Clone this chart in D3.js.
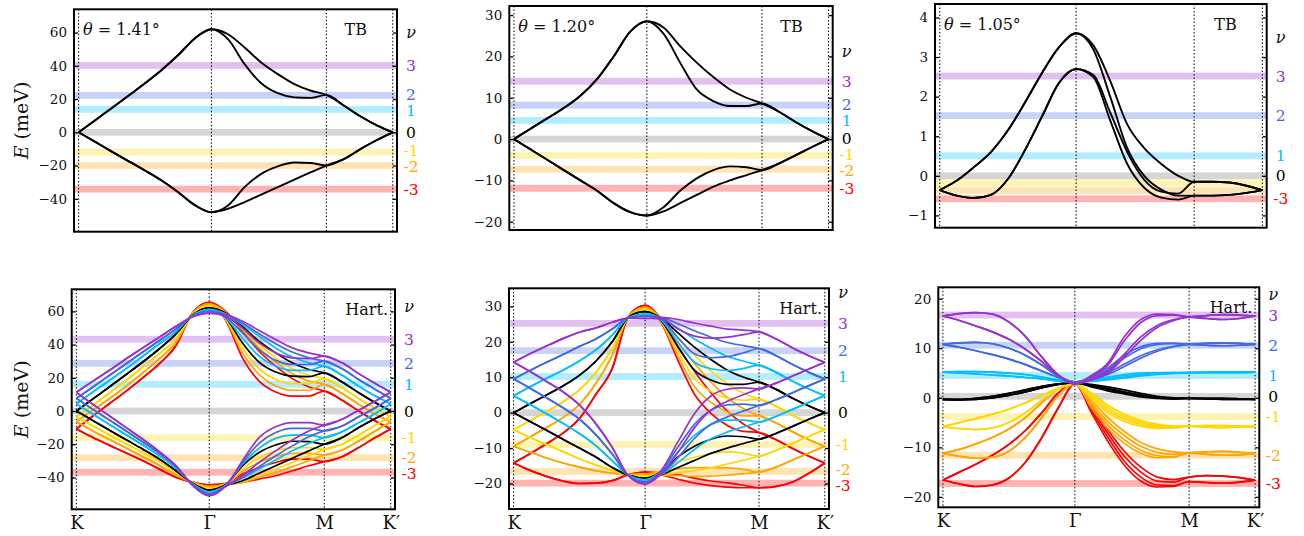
<!DOCTYPE html>
<html><head><meta charset="utf-8">
<script src="https://cdn.jsdelivr.net/npm/d3@7"></script>
<style>
body{margin:0;background:#fff;}
svg text{font-family:"DejaVu Serif",serif;fill:#111;}
</style></head><body>
<svg id="chart" width="1304" height="536"></svg>
<script>
// ---------- shared data ----------
const kPath = [0,0.125,0.25,0.375,0.5,0.625,0.75,0.875,1.0,1.125,1.25,1.375,1.5,1.625,1.75,1.866,2.0,2.125,2.25,2.366];
const kSymPos = [0,1,1.866,2.366];
const kSymLabels = ["K","Γ","M","K′"];
const nuValues = [3,2,1,0,-1,-2,-3];
const nuText = ["3","2","1","0","-1","-2","-3"];

// ---------- TB bands (black) ----------
const tb141 = [
 [0,7.3,14.6,22,29.5,37.5,46.5,56.5,62, 59,51,42,35,29,25,22.5, 16,9.5,4,0],
 [0,7.3,14.6,22,29.5,37.5,46.5,56.5,62, 56,41,29.5,23.5,21,20.7,22.5, 16,9.5,4,0],
 [0,-5.8,-11.6,-17.3,-23,-29,-36,-43.8,-48, -44,-33,-25,-20.5,-18.2,-18.5,-20, -16,-10,-4.5,0],
 [0,-5.8,-11.6,-17.3,-23,-29,-36,-43.8,-48, -46,-42,-37.5,-33,-28.5,-24,-20, -16,-10,-4.5,0]
];
const tb120 = [
 [0,2.5,5,7.5,10.5,14.5,20,26,28.5, 27,22.5,18.5,15,12,10,8.6, 6.5,4,1.8,0],
 [0,2.5,5,7.5,10.5,14.5,20,26,28.5, 25.5,18.5,12,9.2,8,8,8.6, 6.5,4,1.8,0],
 [0,-2.5,-5,-7.5,-10,-12.5,-15.5,-17.7,-18.5, -16.5,-12.5,-9.5,-7.5,-6.6,-6.8,-7.5, -5.8,-3.8,-1.8,0],
 [0,-2.5,-5,-7.5,-10,-12.5,-15.5,-17.7,-18.5, -17.5,-15.5,-13.5,-11.5,-10,-8.7,-7.5, -5.8,-3.8,-1.8,0]
];
const tb105 = [
 [-0.36,-0.12,0.22,0.6,1.15,1.85,2.6,3.25,3.6, 3.3,2.4,1.3,0.7,0.3,0.0,-0.15, -0.15,-0.17,-0.25,-0.36],
 [-0.36,-0.12,0.22,0.6,1.15,1.85,2.6,3.25,3.6, 3.2,2.0,0.7,0.0,-0.35,-0.5,-0.5, -0.5,-0.48,-0.43,-0.36],
 [-0.36,-0.5,-0.56,-0.48,-0.08,0.65,1.5,2.35,2.7, 2.55,1.6,0.6,-0.1,-0.4,-0.45,-0.15, -0.15,-0.17,-0.25,-0.36],
 [-0.36,-0.5,-0.56,-0.48,-0.08,0.65,1.5,2.35,2.7, 2.5,1.4,0.3,-0.3,-0.55,-0.6,-0.5, -0.5,-0.48,-0.43,-0.36]
];

// ---------- Hartree 1.41° (per filling nu) ----------
const h141_p3 = [
 [11.3,18,24.5,31.5,38,44.5,51,56.8,59, 58,54,48.5,43,38,35,33, 29,22.5,16.5,11.3],
 [11.3,18,24.5,31.5,38,44.5,51,56.8,59, 57,50,41,35,32,31.5,33, 29,22.5,16.5,11.3],
 [11.3,4,-3,-10,-17,-24.5,-33,-44.8,-51, -45,-30,-16,-9.5,-7,-7,-8.5, -5,0.5,6,11.3],
 [11.3,4,-3,-10,-17,-24.5,-33,-44.8,-51, -45.5,-39,-31,-24,-17.5,-12,-8.5, -5,0.5,6,11.3]
];
const h141_p2 = [
 [7.6,14.5,21.5,28.5,35.5,42.5,49.5,57.2,60, 58,53,46.5,40.5,35.5,32,30, 25.5,19,13,7.6],
 [7.6,14.5,21.5,28.5,35.5,42.5,49.5,57.2,60, 56.5,47,37,30.5,28,28,30, 25.5,19,13,7.6],
 [7.6,1,-5.5,-12,-18.7,-25.5,-33.5,-44.3,-50, -44.8,-31,-19.5,-13,-10.5,-10.5,-12, -9,-3.5,2,7.6],
 [7.6,1,-5.5,-12,-18.7,-25.5,-33.5,-44.3,-50, -45.2,-40,-33.5,-27,-21,-15.5,-12, -9,-3.5,2,7.6]
];
const h141_p1 = [
 [4.3,11.5,18.5,25.5,33,40.5,48,57.6,61, 58.5,52,45,38,32.5,29,27, 21.5,15,9,4.3],
 [4.3,11.5,18.5,25.5,33,40.5,48,57.6,61, 56,44,33,27,24.5,24.5,27, 21.5,15,9,4.3],
 [4.3,-2,-8.2,-14.3,-20.5,-27,-34.5,-43.9,-48.8, -44.5,-32,-22.5,-16.5,-14.5,-14.5,-16, -12.5,-7,-1.5,4.3],
 [4.3,-2,-8.2,-14.3,-20.5,-27,-34.5,-43.9,-48.8, -45,-40.5,-35,-29.5,-24,-19.5,-16, -12.5,-7,-1.5,4.3]
];
const h141_0 = [
 [0,7.3,14.6,22,29.5,37.5,46.5,57.8,62.2, 59,51,42,35,29,25,23, 17.5,11,5,0],
 [0,7.3,14.6,22,29.5,37.5,46.5,57.8,62.2, 56,41,29.5,23.5,21,20.7,23, 17.5,11,5,0],
 [0,-5.8,-11.6,-17.3,-23,-29,-36,-43.5,-47.6, -44.2,-33,-25,-20.5,-18.2,-18.5,-20, -16,-10,-4.5,0],
 [0,-5.8,-11.6,-17.3,-23,-29,-36,-43.5,-47.6, -44.8,-42,-37.5,-33,-28.5,-24,-20, -16,-10,-4.5,0]
];
const h141_m1 = [
 [-3.4,3.5,11,18.5,26.5,34.5,43.5,58.4,63.5, 59,50,40,32,25.5,21.5,19.5, 14,7.5,1.5,-3.4],
 [-3.4,3.5,11,18.5,26.5,34.5,43.5,58.4,63.5, 55.5,38,25.5,19,16.5,16.5,19.5, 14,7.5,1.5,-3.4],
 [-3.4,-9,-14.5,-19.8,-25,-30.5,-37,-43.2,-46.5, -44,-35,-28,-24,-22,-22,-23, -20,-14.5,-8.5,-3.4],
 [-3.4,-9,-14.5,-19.8,-25,-30.5,-37,-43.2,-46.5, -44.6,-42.5,-39,-35,-31,-27,-23, -20,-14.5,-8.5,-3.4]
];
const h141_m2 = [
 [-6.5,0.5,7.5,15,23,31.5,41.5,58.8,64.5, 59.5,49,38,29.5,22.5,18,16, 10.5,4,-2,-6.5],
 [-6.5,0.5,7.5,15,23,31.5,41.5,58.8,64.5, 55,35,22,15,12.5,12.5,16, 10.5,4,-2,-6.5],
 [-6.5,-12,-17.2,-22.3,-27.5,-32.8,-38.5,-43,-45.5, -43.8,-36.5,-31,-27.5,-25.5,-25.5,-26.5, -23.5,-18,-12,-6.5],
 [-6.5,-12,-17.2,-22.3,-27.5,-32.8,-38.5,-43,-45.5, -44.4,-43,-40,-37,-33.5,-30,-26.5, -23.5,-18,-12,-6.5]
];
const h141_m3 = [
 [-10.8,-3,4.5,12,20,28.5,39.5,59.2,65.5, 60,48,36,27,19.5,14.5,12, 6.5,0,-6,-10.8],
 [-10.8,-3,4.5,12,20,28.5,39.5,59.2,65.5, 54.5,32,18,11.5,9,9,12, 6.5,0,-6,-10.8],
 [-10.8,-16,-20.7,-25.3,-30,-35,-40,-42.8,-44.5, -43.6,-38,-34,-31,-29,-29,-30.5, -27.5,-22,-16,-10.8],
 [-10.8,-16,-20.7,-25.3,-30,-35,-40,-42.8,-44.5, -44.2,-43,-41,-39,-36,-33,-30.5, -27.5,-22,-16,-10.8]
];

// ---------- Hartree 1.20° ----------
const h120_p3 = [
 [14.2,16.6,18.8,20.9,22.7,23.9,25.5,26.7,26.6, 26.9,26.3,25.3,24.4,23.6,23.3,22.8, 20.7,18.2,16.0,14.2],
 [14.2,16.6,18.8,20.9,22.7,23.9,25.5,26.7,26.6, 26.4,23.6,21.6,21.0,21.3,22.0,22.8, 20.7,18.2,16.0,14.2],
 [14.2,11.6,8.8,5.9,2.2,-3.1,-9.8,-17.9,-20.1, -16.2,-8.2,-0.3,4.7,6.6,7.0,6.7, 8.4,10.4,12.4,14.2],
 [14.2,11.6,8.8,5.9,2.2,-3.1,-9.8,-17.9,-20.1, -17.2,-11.2,-4.3,0.7,3.2,5.1,6.7, 8.4,10.4,12.4,14.2]
];
const h120_p2 = [
 [9.5,11.9,14.2,16.4,18.7,20.8,23.6,26.8,27.3, 26.8,25.1,23.1,21.3,19.8,18.9,18.1, 16.0,13.5,11.3,9.5],
 [9.5,11.9,14.2,16.4,18.7,20.8,23.6,26.8,27.3, 26.2,21.1,16.6,15.5,15.8,16.9,18.1, 16.0,13.5,11.3,9.5],
 [9.5,6.9,4.2,1.4,-1.8,-6.2,-11.7,-17.8,-19.6, -16.3,-9.7,-3.3,0.7,2.2,2.4,2.0, 3.7,5.7,7.7,9.5],
 [9.5,6.9,4.2,1.4,-1.8,-6.2,-11.7,-17.8,-19.6, -17.3,-12.7,-7.3,-3.3,-1.2,0.5,2.0, 3.7,5.7,7.7,9.5]
];
const h120_p1 = [
 [4.8,7.3,9.7,12.0,14.6,17.7,21.9,26.9,27.9, 26.7,23.8,20.8,18.2,15.9,14.5,13.4, 11.3,8.8,6.6,4.8],
 [4.8,7.3,9.7,12.0,14.6,17.7,21.9,26.9,27.9, 26.0,19.8,14.3,12.4,11.9,12.5,13.4, 11.3,8.8,6.6,4.8],
 [4.8,2.3,-0.3,-3.0,-5.9,-9.3,-13.6,-17.7,-19.0, -16.4,-11.1,-6.4,-3.4,-2.1,-2.1,-2.7, -1.0,1.0,3.0,4.8],
 [4.8,2.3,-0.3,-3.0,-5.9,-9.3,-13.6,-17.7,-19.0, -17.4,-14.1,-10.4,-7.4,-5.5,-4.0,-2.7, -1.0,1.0,3.0,4.8]
];
const h120_0 = [
 [0,2.5,5,7.5,10.5,14.5,20,27,28.5, 26.6,22.5,18.5,15,12,10,8.6, 6.5,4,1.8,0],
 [0,2.5,5,7.5,10.5,14.5,20,27,28.5, 25.8,18.5,12,9.2,8,8,8.6, 6.5,4,1.8,0],
 [0,-2.5,-5,-7.5,-10,-12.5,-15.5,-17.7,-18.5, -16.5,-12.5,-9.5,-7.5,-6.6,-6.8,-7.5, -5.8,-3.8,-1.8,0],
 [0,-2.5,-5,-7.5,-10,-12.5,-15.5,-17.7,-18.5, -17.5,-15.5,-13.5,-11.5,-10,-8.7,-7.5, -5.8,-3.8,-1.8,0]
];
const h120_m1 = [
 [-4.8,-2.3,0.3,3.0,6.4,11.3,18.1,27.1,29.1, 26.5,21.2,16.2,11.8,8.1,5.5,3.8, 1.7,-0.8,-3.0,-4.8],
 [-4.8,-2.3,0.3,3.0,6.4,11.3,18.1,27.1,29.1, 25.6,17.2,9.7,6.0,4.1,3.5,3.8, 1.7,-0.8,-3.0,-4.8],
 [-4.8,-7,-9,-11,-13,-14.8,-16.3,-17.6,-17.9, -16.6,-13.9,-12.6,-11.6,-11.1,-11.5,-12.3, -10.6,-8.6,-6.6,-4.8],
 [-4.8,-7,-9,-11,-13,-14.8,-16.3,-17.6,-17.9, -17.6,-16.9,-16.4,-15.6,-14.5,-13.4,-12.3, -10.6,-8.6,-6.6,-4.8]
];
const h120_m2 = [
 [-9.5,-6.9,-4.2,-1.4,2.3,8.2,16.2,27.2,29.7, 26.4,19.9,13.9,8.7,4.2,1.1,-0.9, -3.0,-5.5,-7.7,-9.5],
 [-9.5,-6.9,-4.2,-1.4,2.3,8.2,16.2,27.2,29.7, 25.4,15.9,7.4,2.9,0.2,-0.9,-0.9, -3.0,-5.5,-7.7,-9.5],
 [-9.5,-11.2,-12.8,-14.2,-15.4,-16.4,-17.1,-17.5,-17.3, -16.7,-15.8,-15.5,-15.5,-15.6,-16.0,-16.8, -15.3,-13.3,-11.3,-9.5],
 [-9.5,-11.2,-12.8,-14.2,-15.4,-16.4,-17.1,-17.5,-17.3, -17.7,-17.8,-18,-17.9,-17.6,-17.2,-16.8, -15.3,-13.3,-11.3,-9.5]
];
const h120_m3 = [
 [-14.2,-11.6,-8.8,-5.8,-1.7,5.1,12.5,27.3,30.3, 26.3,18.7,11.7,5.6,0.4,-3.3,-5.6, -7.7,-10.2,-12.4,-14.2],
 [-14.2,-11.6,-8.8,-5.8,-1.7,5.1,12.5,27.3,30.3, 25.2,14.7,5.2,-0.2,-3.6,-5.3,-5.6, -7.7,-10.2,-12.4,-14.2],
 [-14.2,-16.3,-18,-19.3,-20,-19.9,-19.2,-17.5,-16.8, -17,-17.5,-18.5,-19.3,-19.8,-20.5,-21.2, -20.8,-19.5,-17,-14.2],
 [-14.2,-16.3,-18,-19.3,-20,-19.9,-19.2,-17.5,-16.8, -17.6,-18.8,-19.9,-20.6,-21.0,-21.2,-21.2, -20.8,-19.5,-17,-14.2]
];

// ---------- Hartree 1.05° ----------
const h105_p3 = [
 [16.5,17.0,17.2,16.9,15.3,12.4,8.2,4.6,2.8, 4.5,7.0,12.3,15.8,16.9,16.8,16.3, 16.0,15.8,16.0,16.5],
 [16.5,17.0,17.2,16.9,15.3,12.4,8.2,4.6,2.8, 4.3,6.6,11.5,15.2,16.6,16.7,16.3, 16.6,16.8,16.7,16.5],
 [16.5,15.6,14.5,13.3,11.8,9.8,7.3,4.5,2.8, 3.8,5.4,8.8,12.3,14.6,15.8,16.3, 16.0,15.8,16.0,16.5],
 [16.5,15.6,14.5,13.3,11.8,9.8,7.3,4.5,2.8, 3.6,5.0,8.2,11.6,14.2,15.6,16.3, 16.6,16.8,16.7,16.5]
];
const h105_p2 = [
 [10.8,11.1,11.2,10.9,10.0,8.6,6.6,4.4,3.2, 4.2,6.0,8.6,10.3,11.0,11.0,10.8, 10.6,10.5,10.6,10.8],
 [10.8,11.1,11.2,10.9,10.0,8.6,6.6,4.4,3.2, 4.0,5.6,8.0,9.9,10.8,11.0,10.8, 11.0,11.1,11.0,10.8],
 [10.8,10.2,9.5,8.7,7.8,6.7,5.4,4.1,3.2, 3.8,5.0,6.8,8.5,9.7,10.4,10.8, 10.6,10.5,10.6,10.8],
 [10.8,10.2,9.5,8.7,7.8,6.7,5.4,4.1,3.2, 3.7,4.7,6.3,8.0,9.4,10.3,10.8, 11.0,11.1,11.0,10.8]
];
const h105_p1 = [
 [5.2,5.3,5.3,5.2,5.0,4.7,4.2,3.6,3.2, 3.6,4.2,4.7,5.0,5.1,5.1,5.1, 5.1,5.1,5.1,5.2],
 [5.2,5.3,5.3,5.2,5.0,4.7,4.2,3.6,3.2, 3.5,4.0,4.5,4.8,5.0,5.1,5.1, 5.2,5.2,5.2,5.2],
 [5.2,5.0,4.8,4.6,4.4,4.1,3.8,3.4,3.2, 3.4,3.8,4.2,4.6,4.9,5.0,5.1, 5.1,5.1,5.1,5.2],
 [5.2,5.0,4.8,4.6,4.4,4.1,3.8,3.4,3.2, 3.3,3.6,4.0,4.4,4.7,4.9,5.1, 5.2,5.2,5.2,5.2]
];
const h105_0 = [
 [-0.3,-0.4,-0.3,0.0,0.5,1.2,2.0,2.7,3.0, 2.7,2.2,1.6,0.9,0.3,0.0,-0.1, -0.2,-0.3,-0.3,-0.3],
 [-0.3,-0.4,-0.3,0.0,0.5,1.2,2.0,2.7,3.0, 2.5,1.9,1.2,0.6,0.1,-0.1,-0.1, -0.1,-0.1,-0.2,-0.3],
 [-0.3,-0.3,-0.1,0.3,0.9,1.6,2.3,2.8,3.0, 2.4,1.7,1.0,0.4,0.0,-0.2,-0.1, -0.2,-0.3,-0.3,-0.3],
 [-0.3,-0.3,-0.1,0.3,0.9,1.6,2.3,2.8,3.0, 2.2,1.4,0.8,0.2,-0.1,-0.2,-0.1, -0.1,-0.1,-0.2,-0.3]
];
const h105_m1 = [
 [-5.8,-6.2,-6.4,-6.1,-5.0,-3.0,-0.5,1.8,2.8, 1.0,-1.5,-3.3,-4.6,-5.3,-5.7,-5.7, -5.6,-5.6,-5.7,-5.8],
 [-5.8,-6.2,-6.4,-6.1,-5.0,-3.0,-0.5,1.8,2.8, 0.6,-2.0,-3.8,-5.0,-5.6,-5.8,-5.7, -5.9,-6.0,-5.9,-5.8],
 [-5.8,-5.0,-4.2,-3.3,-2.3,-1.0,0.5,1.9,2.8, 0.2,-2.5,-4.3,-5.4,-5.9,-6.0,-5.7, -5.6,-5.6,-5.7,-5.8],
 [-5.8,-5.0,-4.2,-3.3,-2.3,-1.0,0.5,1.9,2.8, -0.2,-3.0,-4.8,-5.8,-6.2,-6.1,-5.7, -5.9,-6.0,-5.9,-5.8]
];
const h105_m2 = [
 [-11.2,-11.8,-12.2,-12.0,-10.8,-8.0,-4.0,0.5,2.8, -0.5,-4.0,-6.8,-9.0,-10.3,-10.9,-11.1, -10.9,-10.8,-11.0,-11.2],
 [-11.2,-11.8,-12.2,-12.0,-10.8,-8.0,-4.0,0.5,2.8, -1.0,-4.8,-7.6,-9.8,-11.0,-11.4,-11.1, -11.4,-11.6,-11.5,-11.2],
 [-11.2,-10.4,-9.3,-8.0,-6.3,-4.0,-1.0,1.8,2.8, -1.5,-5.5,-8.5,-10.6,-11.7,-11.9,-11.1, -10.9,-10.8,-11.0,-11.2],
 [-11.2,-10.4,-9.3,-8.0,-6.3,-4.0,-1.0,1.8,2.8, -2.0,-6.2,-9.2,-11.2,-12.1,-12.0,-11.1, -11.4,-11.6,-11.5,-11.2]
];
const h105_m3 = [
 [-16.6,-17.4,-17.9,-17.6,-16.2,-13.0,-8.0,-2.0,2.8, -1.5,-6.5,-10.8,-14.0,-16.0,-16.5,-16.0, -15.7,-15.8,-16.1,-16.6],
 [-16.6,-17.4,-17.9,-17.6,-16.2,-13.0,-8.0,-2.0,2.8, -2.0,-7.2,-11.8,-15.0,-16.8,-17.0,-16.0, -15.7,-15.8,-16.1,-16.6],
 [-16.6,-15.0,-13.4,-11.6,-9.4,-6.6,-3.0,1.0,2.8, -2.5,-8.0,-12.8,-16.0,-17.6,-17.7,-16.9, -17.1,-17.2,-17.0,-16.6],
 [-16.6,-15.0,-13.4,-11.6,-9.4,-6.6,-3.0,1.0,2.8, -3.0,-8.8,-13.6,-16.8,-18.0,-17.9,-16.9, -17.1,-17.2,-17.0,-16.6]
];

// ---------- filling-level bands (meV), order nu = 3..-3 ----------
const bandsTB141 = [40.2,22.2,13.8,0,-12,-20,-34.2];
const bandsTB120 = [14.0,8.2,4.5,0,-3.95,-7.3,-11.9];
const bandsTB105 = [2.52,1.52,0.505,0,-0.18,-0.37,-0.58];
const bandsH141 = [43.2,28.7,16.1,0,-16.1,-28.1,-36.9];
const bandsH120 = [25.2,17.5,10.2,0,-9.0,-16.6,-19.9];
const bandsH105 = [16.7,10.6,4.5,0.3,-3.8,-11.6,-17.3];

// ---------- style ----------
const nuColor = {"3":"#9932CC","2":"#4169E1","1":"#00BFFF","0":"#000000","-1":"#FFD700","-2":"#FFA500","-3":"#FF0000"};
const drawOrder = [-3,-2,-1,0,1,2,3];

const svg = d3.select("#chart");

const panels = [
 {x0:74, x1:397, y0:9.3, y1:231.7, yDom:[-59.8,74], ticks:[-40,-20,0,20,40,60], bands:bandsTB141, nuE:59.6, angle:"1.41", tag:"TB",
  tb:tb141, showNu:[3,2,1,0,-1,-2,-3], xlab:false, ylab:true},
 {x0:509.3, x1:832.7, y0:6, y1:230, yDom:[-22,32.2], ticks:[-20,-10,0,10,20,30], bands:bandsTB120, nuE:21.1, angle:"1.20", tag:"TB",
  tb:tb120, showNu:[3,2,1,0,-1,-2,-3], xlab:false, ylab:false},
 {x0:935, x1:1266.7, y0:4, y1:227.7, yDom:[-1.31,4.34], ticks:[-1,0,1,2,3,4], bands:bandsTB105, nuE:3.47, angle:"1.05", tag:"TB",
  tb:tb105, showNu:[3,2,1,0,-3], xlab:false, ylab:false},
 {x0:71.7, x1:395, y0:289.3, y1:509.3, yDom:[-59.2,73.3], ticks:[-40,-20,0,20,40,60], bands:bandsH141, nuE:62.8, tag:"Hart.",
  hart:{"3":h141_p3,"2":h141_p2,"1":h141_p1,"0":h141_0,"-1":h141_m1,"-2":h141_m2,"-3":h141_m3}, showNu:[3,2,1,0,-1,-2,-3], xlab:true, ylab:true},
 {x0:509, x1:829, y0:288.3, y1:509, yDom:[-27.2,35.1], ticks:[-20,-10,0,10,20,30], bands:bandsH120, nuE:33.7, tag:"Hart.",
  hart:{"3":h120_p3,"2":h120_p2,"1":h120_p1,"0":h120_0,"-1":h120_m1,"-2":h120_m2,"-3":h120_m3}, showNu:[3,2,1,0,-1,-2,-3], xlab:true, ylab:false},
 {x0:938.3, x1:1259.3, y0:287.3, y1:507.3, yDom:[-22.1,22.3], ticks:[-20,-10,0,10,20], bands:bandsH105, nuE:20.7, tag:"Hart.",
  hart:{"3":h105_p3,"2":h105_p2,"1":h105_p1,"0":h105_0,"-1":h105_m1,"-2":h105_m2,"-3":h105_m3}, showNu:[3,2,1,0,-1,-2,-3], xlab:true, ylab:false}
];

function relax(ys, gap){
  const a = ys.slice();
  for(let it=0; it<60; it++){
    for(let i=0;i<a.length-1;i++){
      const d=a[i+1]-a[i];
      if(d<gap){ const s=(gap-d)/2; a[i]-=s; a[i+1]+=s; }
    }
  }
  return a;
}

const fmt = v => (v<0? "\u2212"+Math.abs(v) : String(v));

panels.forEach((p,pi)=>{
  const g = svg.append("g");
  const x = d3.scaleLinear().domain([-0.035,2.398]).range([p.x0,p.x1]);
  const y = d3.scaleLinear().domain(p.yDom).range([p.y1,p.y0]);
  const clipId = "clip"+pi;
  svg.append("clipPath").attr("id",clipId).append("rect")
    .attr("x",p.x0).attr("y",p.y0).attr("width",p.x1-p.x0).attr("height",p.y1-p.y0);
  const inner = g.append("g").attr("clip-path",`url(#${clipId})`);

  // filling bands
  p.bands.forEach((e,i)=>{
    const nu = nuValues[i];
    inner.append("rect").attr("x",p.x0).attr("width",p.x1-p.x0)
      .attr("y",y(e)-3.4).attr("height",6.8)
      .attr("fill",nuColor[nu]).attr("fill-opacity", nu===0?0.16:0.3);
  });
  // symmetry lines
  kSymPos.forEach(k=>{
    inner.append("line").attr("x1",x(k)).attr("x2",x(k)).attr("y1",p.y0).attr("y2",p.y1)
      .attr("stroke","#000").attr("stroke-width",1).attr("stroke-dasharray","1.5,2");
  });
  const line = d3.line().x((d,i)=>x(kPath[i])).y(d=>y(d)).curve(d3.curveMonotoneX);
  if(p.tb){
    p.tb.forEach(vals=>{
      inner.append("path").attr("d",line(vals)).attr("fill","none").attr("stroke","#000").attr("stroke-width",1.9);
    });
  } else {
    drawOrder.forEach(nu=>{
      p.hart[String(nu)].forEach(vals=>{
        inner.append("path").attr("d",line(vals)).attr("fill","none")
          .attr("stroke",nuColor[nu]).attr("stroke-width",1.7);
      });
    });
  }
  // frame
  g.append("rect").attr("x",p.x0).attr("y",p.y0).attr("width",p.x1-p.x0).attr("height",p.y1-p.y0)
    .attr("fill","none").attr("stroke","#000").attr("stroke-width",2);
  // axes
  const ax = g.append("g").attr("transform",`translate(${p.x0},0)`)
    .call(d3.axisLeft(y).tickValues(p.ticks).tickSizeInner(-4).tickSizeOuter(0).tickPadding(7).tickFormat(fmt));
  ax.select(".domain").remove();
  ax.selectAll("line").attr("stroke-width",1.3);
  ax.selectAll("text").attr("font-family","DejaVu Serif").attr("font-size",13.5).attr("fill","#222");
  const axr = g.append("g").attr("transform",`translate(${p.x1},0)`)
    .call(d3.axisRight(y).tickValues(p.ticks).tickSizeInner(-4).tickSizeOuter(0).tickFormat(""));
  axr.select(".domain").remove();
  axr.selectAll("line").attr("stroke-width",1.3);
  if(p.xlab){
    const axb = g.append("g").attr("transform",`translate(0,${p.y1})`)
      .call(d3.axisBottom(x).tickValues(kSymPos).tickSize(0).tickPadding(7).tickFormat((d,i)=>kSymLabels[i]));
    axb.select(".domain").remove();
    axb.selectAll("text").attr("font-family","DejaVu Serif").attr("font-size",18).attr("fill","#222");
  }
  // nu labels
  const shown = p.showNu.map(nu=>({nu, y:y(p.bands[nuValues.indexOf(nu)])}));
  const ys = relax(shown.map(d=>d.y),16);
  const lx = p.x1+14;
  shown.forEach((d,i)=>{
    g.append("text").attr("x",lx).attr("y",ys[i]).attr("dy","0.36em").attr("text-anchor","middle")
      .attr("font-size",15.5).style("fill",nuColor[d.nu]).text(nuText[nuValues.indexOf(d.nu)]);
  });
  g.append("text").attr("x",lx).attr("y",y(p.nuE)).attr("dy","0.3em").attr("text-anchor","middle")
    .attr("font-size",16).attr("font-style","italic").text("ν");
  // tag
  g.append("text").attr("x", p.tag==="TB"? p.x1-30 : p.x1-7).attr("y",p.y0+26).attr("text-anchor","end")
    .attr("font-size",16).text(p.tag);
  if(p.angle){
    const t = g.append("text").attr("x",p.x0+9).attr("y",p.y0+26).attr("font-size",16);
    t.append("tspan").attr("font-style","italic").text("θ");
    t.append("tspan").text(" = "+p.angle+"°");
  }
  if(p.ylab){
    const cy = (p.y0+p.y1)/2;
    const t = g.append("text").attr("transform",`translate(28,${cy}) rotate(-90)`).attr("text-anchor","middle").attr("font-size",19);
    t.append("tspan").attr("font-style","italic").text("E");
    t.append("tspan").text(" (meV)");
  }
});
</script>
</body></html>
